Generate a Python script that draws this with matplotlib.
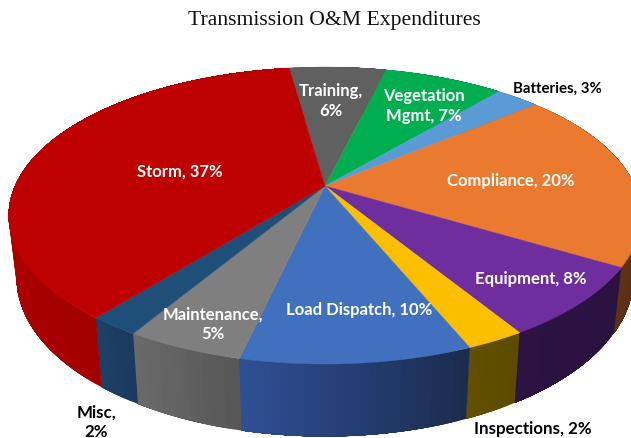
"""Transmission O&M expenditures, drawn as a tilted 3D pie."""

import matplotlib
matplotlib.use("Agg")
import matplotlib.pyplot as plt
import numpy as np

# Clockwise from the top of the pie
shares = [6, 7.4, 2.7, 19.7, 7.7, 2.5, 9.8, 5, 2.15, 37.05]
labels = [
    "Training,\n6%", "Vegetation\nMgmt, 7%", "Batteries, 3%", "Compliance, 20%",
    "Equipment, 8%", "Inspections, 2%", "Load Dispatch, 10%", "Maintenance,\n5%",
    "Misc,\n2%", "Storm, 37%",
]
top_colors = ["#606060", "#00AE4F", "#5B9BD5", "#E97A30", "#6F2E9E",
              "#FCBF00", "#4170BE", "#7F7F7F", "#1F4E79", "#BD0000"]
wall_left = ["#4a4a4a", "#006b30", "#38608a", "#7a3f18", "#2c1342",
             "#625000", "#2F5096", "#6a6a6a", "#1D4168", "#AA0000"]
wall_right = ["#4a4a4a", "#006b30", "#38608a", "#5a2f12", "#2a1240",
              "#5c4a00", "#1A2C4E", "#565656", "#1A3A5C", "#930000"]

label_xy = [(331, 101), (424, 106), (557, 89), (511, 181), (531, 279),
            (533, 429), (359, 310), (213, 324), (96, 422), (180, 172)]
label_ink = ["white", "white", "black", "white", "white",
             "black", "white", "white", "black", "white"]
label_size = [12, 12, 10.8, 12, 12, 12.2, 12, 12, 12.2, 12]

# Projection of the unit disc on to the picture, in pixels
CX, CY = 325, 187
RX, RY = 310, 142.6
PERSP = 0.199
START_DEG = -8.0
WALL_X, WALL_Y, WALL_DROP = 0.975, 1.07, 60


def project(theta):
    x, y = np.sin(theta), -np.cos(theta)
    w = 1 - PERSP * y
    return RX * x / w, RY * y / w


def mix(c1, c2, t):
    a = np.array(matplotlib.colors.to_rgb(c1))
    b = np.array(matplotlib.colors.to_rgb(c2))
    return tuple(a + (b - a) * t)


def main():
    plt.rcParams["font.family"] = ["Lato", "DejaVu Sans"]

    fig = plt.figure(figsize=(6.31, 4.39), dpi=100)
    ax = fig.add_axes([0, 0, 1, 1])
    ax.set_xlim(0, 631)
    ax.set_ylim(439, 0)
    ax.axis("off")

    edges = np.radians(START_DEG + np.cumsum([0] + shares) * 3.6)

    # Side walls first, the top face then covers what is behind it.
    # Each step repaints up to the slice end, so no seams show between steps.
    for i in range(len(shares)):
        thetas = np.linspace(edges[i], edges[i + 1], max(int(shares[i] * 3), 6) + 1)
        dx, dy = project(thetas)
        span = max(dx.max() - dx.min(), 1)
        for j in range(len(thetas) - 1):
            t = (0.5 * (dx[j] + dx[j + 1]) - dx.min()) / span
            xs = np.r_[CX + dx[j:], CX + WALL_X * dx[j:][::-1]]
            ys = np.r_[CY + dy[j:], CY + WALL_DROP + WALL_Y * dy[j:][::-1]]
            ax.fill(xs, ys, color=mix(wall_left[i], wall_right[i], t), linewidth=0, zorder=2)

    for i in range(len(shares)):
        thetas = np.linspace(edges[i], edges[i + 1], 120)
        dx, dy = project(thetas)
        xs = np.r_[CX, CX + dx]
        ys = np.r_[CY, CY + dy]
        ax.fill(xs, ys, color=top_colors[i], linewidth=0.3, zorder=3)

    for text, (x, y), ink, size in zip(labels, label_xy, label_ink, label_size):
        ax.text(x, y, text, color=ink, fontsize=size, fontweight="bold",
                ha="center", va="center", linespacing=1.3, zorder=5)

    ax.text(334, 21, "Transmission O&M Expenditures", color="#111111", fontsize=15.6,
            family="Liberation Serif", ha="center", va="center", zorder=5)

    fig.savefig("out.png", dpi=100, facecolor="white")
    plt.close(fig)


if __name__ == "__main__":
    main()
